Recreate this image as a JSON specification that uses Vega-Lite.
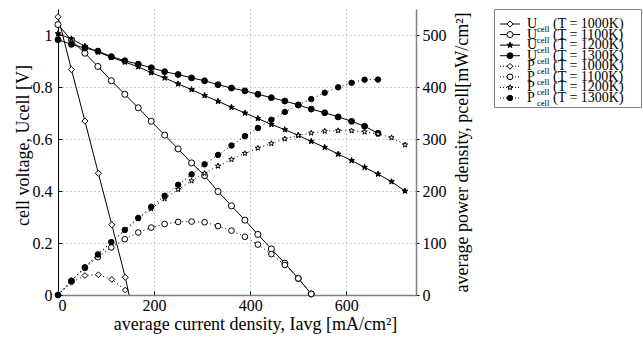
{
  "$schema": "https://vega.github.io/schema/vega-lite/v6.json",
  "background": "white",
  "padding": {"left": 14, "top": 8, "right": 2, "bottom": 2},
  "spacing": 22,
  "config": {
    "font": "Liberation Serif",
    "view": {"stroke": null},
    "axis": {
      "labelFont": "Liberation Serif",
      "titleFont": "Liberation Serif",
      "labelFontSize": 16,
      "titleFontSize": 18,
      "titleFontWeight": "normal",
      "labelColor": "black",
      "titleColor": "black",
      "tickColor": "black",
      "domainColor": "black",
      "gridColor": "#9a9a9a",
      "gridDash": [1, 3],
      "gridOpacity": 1,
      "tickSize": -4
    }
  },
  "datasets": {
    "uc": [
      {"s": "U1000", "I": 0, "v": 1.07}, {"s": "U1000", "I": 28, "v": 0.867}, {"s": "U1000", "I": 56, "v": 0.669}, {"s": "U1000", "I": 84, "v": 0.468}, {"s": "U1000", "I": 112, "v": 0.27}, {"s": "U1000", "I": 140, "v": 0.068}, {"s": "U1000", "I": 148, "v": 0},
      {"s": "U1100", "I": 0, "v": 1.04}, {"s": "U1100", "I": 28, "v": 0.98}, {"s": "U1100", "I": 56, "v": 0.93}, {"s": "U1100", "I": 83, "v": 0.879}, {"s": "U1100", "I": 111, "v": 0.824}, {"s": "U1100", "I": 139, "v": 0.772}, {"s": "U1100", "I": 167, "v": 0.72}, {"s": "U1100", "I": 194, "v": 0.668}, {"s": "U1100", "I": 222, "v": 0.615}, {"s": "U1100", "I": 250, "v": 0.562}, {"s": "U1100", "I": 278, "v": 0.508}, {"s": "U1100", "I": 305, "v": 0.459}, {"s": "U1100", "I": 333, "v": 0.398}, {"s": "U1100", "I": 361, "v": 0.343}, {"s": "U1100", "I": 389, "v": 0.288}, {"s": "U1100", "I": 416, "v": 0.233}, {"s": "U1100", "I": 444, "v": 0.177}, {"s": "U1100", "I": 472, "v": 0.122}, {"s": "U1100", "I": 500, "v": 0.064}, {"s": "U1100", "I": 527, "v": 0.004},
      {"s": "U1200", "I": 0, "v": 1.005}, {"s": "U1200", "I": 28, "v": 0.985}, {"s": "U1200", "I": 56, "v": 0.957}, {"s": "U1200", "I": 83, "v": 0.935}, {"s": "U1200", "I": 111, "v": 0.914}, {"s": "U1200", "I": 139, "v": 0.896}, {"s": "U1200", "I": 167, "v": 0.878}, {"s": "U1200", "I": 194, "v": 0.855}, {"s": "U1200", "I": 222, "v": 0.835}, {"s": "U1200", "I": 250, "v": 0.812}, {"s": "U1200", "I": 278, "v": 0.79}, {"s": "U1200", "I": 305, "v": 0.767}, {"s": "U1200", "I": 333, "v": 0.745}, {"s": "U1200", "I": 361, "v": 0.722}, {"s": "U1200", "I": 389, "v": 0.7}, {"s": "U1200", "I": 416, "v": 0.679}, {"s": "U1200", "I": 444, "v": 0.656}, {"s": "U1200", "I": 472, "v": 0.636}, {"s": "U1200", "I": 500, "v": 0.614}, {"s": "U1200", "I": 527, "v": 0.591}, {"s": "U1200", "I": 555, "v": 0.568}, {"s": "U1200", "I": 583, "v": 0.542}, {"s": "U1200", "I": 611, "v": 0.517}, {"s": "U1200", "I": 638, "v": 0.491}, {"s": "U1200", "I": 666, "v": 0.465}, {"s": "U1200", "I": 694, "v": 0.436}, {"s": "U1200", "I": 722, "v": 0.4},
      {"s": "U1300", "I": 0, "v": 0.982}, {"s": "U1300", "I": 28, "v": 0.964}, {"s": "U1300", "I": 56, "v": 0.95}, {"s": "U1300", "I": 83, "v": 0.938}, {"s": "U1300", "I": 111, "v": 0.917}, {"s": "U1300", "I": 139, "v": 0.901}, {"s": "U1300", "I": 167, "v": 0.888}, {"s": "U1300", "I": 194, "v": 0.874}, {"s": "U1300", "I": 222, "v": 0.859}, {"s": "U1300", "I": 250, "v": 0.848}, {"s": "U1300", "I": 278, "v": 0.835}, {"s": "U1300", "I": 305, "v": 0.824}, {"s": "U1300", "I": 333, "v": 0.809}, {"s": "U1300", "I": 361, "v": 0.796}, {"s": "U1300", "I": 389, "v": 0.785}, {"s": "U1300", "I": 416, "v": 0.772}, {"s": "U1300", "I": 444, "v": 0.759}, {"s": "U1300", "I": 472, "v": 0.746}, {"s": "U1300", "I": 500, "v": 0.731}, {"s": "U1300", "I": 527, "v": 0.715}, {"s": "U1300", "I": 555, "v": 0.701}, {"s": "U1300", "I": 583, "v": 0.685}, {"s": "U1300", "I": 611, "v": 0.668}, {"s": "U1300", "I": 638, "v": 0.649}, {"s": "U1300", "I": 666, "v": 0.622}
    ],
    "pc": [
      {"s": "P1000", "I": 0, "v": 0}, {"s": "P1000", "I": 28, "v": 24.3}, {"s": "P1000", "I": 56, "v": 37.5}, {"s": "P1000", "I": 84, "v": 39}, {"s": "P1000", "I": 112, "v": 30}, {"s": "P1000", "I": 140, "v": 9.5},
      {"s": "P1100", "I": 0, "v": 0}, {"s": "P1100", "I": 28, "v": 27.4}, {"s": "P1100", "I": 56, "v": 52.1}, {"s": "P1100", "I": 83, "v": 73}, {"s": "P1100", "I": 111, "v": 91.5}, {"s": "P1100", "I": 139, "v": 107.3}, {"s": "P1100", "I": 167, "v": 120.2}, {"s": "P1100", "I": 194, "v": 129.6}, {"s": "P1100", "I": 222, "v": 136.5}, {"s": "P1100", "I": 250, "v": 140.5}, {"s": "P1100", "I": 278, "v": 141.2}, {"s": "P1100", "I": 305, "v": 140}, {"s": "P1100", "I": 333, "v": 132.5}, {"s": "P1100", "I": 361, "v": 123.8}, {"s": "P1100", "I": 389, "v": 112}, {"s": "P1100", "I": 416, "v": 97}, {"s": "P1100", "I": 444, "v": 78.6}, {"s": "P1100", "I": 472, "v": 57.6}, {"s": "P1100", "I": 500, "v": 32}, {"s": "P1100", "I": 527, "v": 2.1},
      {"s": "P1200", "I": 0, "v": 0}, {"s": "P1200", "I": 28, "v": 27.6}, {"s": "P1200", "I": 56, "v": 53.6}, {"s": "P1200", "I": 83, "v": 77.6}, {"s": "P1200", "I": 111, "v": 101.5}, {"s": "P1200", "I": 139, "v": 124.5}, {"s": "P1200", "I": 167, "v": 146.6}, {"s": "P1200", "I": 194, "v": 165.9}, {"s": "P1200", "I": 222, "v": 185.4}, {"s": "P1200", "I": 250, "v": 203}, {"s": "P1200", "I": 278, "v": 219.6}, {"s": "P1200", "I": 305, "v": 234}, {"s": "P1200", "I": 333, "v": 248}, {"s": "P1200", "I": 361, "v": 260.6}, {"s": "P1200", "I": 389, "v": 272.3}, {"s": "P1200", "I": 416, "v": 282.5}, {"s": "P1200", "I": 444, "v": 291.3}, {"s": "P1200", "I": 472, "v": 300.2}, {"s": "P1200", "I": 500, "v": 307}, {"s": "P1200", "I": 527, "v": 311.5}, {"s": "P1200", "I": 555, "v": 315.2}, {"s": "P1200", "I": 583, "v": 316}, {"s": "P1200", "I": 611, "v": 315.9}, {"s": "P1200", "I": 638, "v": 313.7}, {"s": "P1200", "I": 666, "v": 309.7}, {"s": "P1200", "I": 694, "v": 302.6}, {"s": "P1200", "I": 722, "v": 288.8},
      {"s": "P1300", "I": 0, "v": 0}, {"s": "P1300", "I": 28, "v": 27}, {"s": "P1300", "I": 56, "v": 53.2}, {"s": "P1300", "I": 83, "v": 78}, {"s": "P1300", "I": 111, "v": 101.8}, {"s": "P1300", "I": 139, "v": 125.2}, {"s": "P1300", "I": 167, "v": 148.3}, {"s": "P1300", "I": 194, "v": 169.6}, {"s": "P1300", "I": 222, "v": 190.7}, {"s": "P1300", "I": 250, "v": 212}, {"s": "P1300", "I": 278, "v": 232}, {"s": "P1300", "I": 305, "v": 251.3}, {"s": "P1300", "I": 333, "v": 269.4}, {"s": "P1300", "I": 361, "v": 287.4}, {"s": "P1300", "I": 389, "v": 305.4}, {"s": "P1300", "I": 416, "v": 321.2}, {"s": "P1300", "I": 444, "v": 337}, {"s": "P1300", "I": 472, "v": 352}, {"s": "P1300", "I": 500, "v": 365.5}, {"s": "P1300", "I": 527, "v": 376.8}, {"s": "P1300", "I": 555, "v": 389}, {"s": "P1300", "I": 583, "v": 399.4}, {"s": "P1300", "I": 611, "v": 408}, {"s": "P1300", "I": 638, "v": 414}, {"s": "P1300", "I": 666, "v": 414.3}
    ],
    "leg": [
      {"s": "U1000", "sym": "U", "tl": "(T = 1000K)"},
      {"s": "U1100", "sym": "U", "tl": "(T = 1100K)"},
      {"s": "U1200", "sym": "U", "tl": "(T = 1200K)"},
      {"s": "U1300", "sym": "U", "tl": "(T = 1300K)"},
      {"s": "P1000", "sym": "P", "tl": "(T = 1000K)"},
      {"s": "P1100", "sym": "P", "tl": "(T = 1100K)"},
      {"s": "P1200", "sym": "P", "tl": "(T = 1200K)"},
      {"s": "P1300", "sym": "P", "tl": "(T = 1300K)"}
    ]
  },
  "hconcat": [
    {
      "width": 358,
      "height": 286,
      "encoding": {
        "x": {
          "field": "I", "type": "quantitative",
          "scale": {"domain": [0, 745], "nice": false, "zero": true},
          "axis": {
            "values": [0, 200, 400, 600], "grid": true,
            "title": "average current density, Iavg [mA/cm²]",
            "titleX": 197, "labelPadding": 6, "titlePadding": 2,
            "domainColor": "#808080", "domainWidth": 1.5
          }
        }
      },
      "layer": [
        {
          "data": {"name": "uc"},
          "encoding": {
            "y": {
              "field": "v", "type": "quantitative",
              "scale": {"domain": [0, 1.1], "nice": false, "zero": true},
              "axis": {
                "orient": "left", "values": [0, 0.2, 0.4, 0.6, 0.8, 1], "format": "~g",
                "grid": true, "title": "cell voltage, Ucell [V]",
                "labelPadding": 10, "titlePadding": 0, "titleY": 136
              }
            }
          },
          "layer": [
            {
              "mark": {"type": "line", "color": "black", "strokeWidth": 1},
              "encoding": {"detail": {"field": "s"}}
            },
            {
              "transform": [{"filter": "datum.v > 0 || datum.I == 0"}],
              "mark": {"type": "point", "filled": true, "stroke": "black", "strokeWidth": 1, "opacity": 1},
              "encoding": {
                "shape": {"field": "s", "type": "nominal", "legend": null,
                  "scale": {"domain": ["U1000", "U1100", "U1200", "U1300", "P1000", "P1100", "P1200", "P1300"],
                    "range": ["diamond", "circle", "M0,-1L0.235,-0.324L0.951,-0.309L0.380,0.124L0.588,0.809L0,0.4L-0.588,0.809L-0.380,0.124L-0.951,-0.309L-0.235,-0.324Z", "circle", "diamond", "circle", "M0,-1L0.235,-0.324L0.951,-0.309L0.380,0.124L0.588,0.809L0,0.4L-0.588,0.809L-0.380,0.124L-0.951,-0.309L-0.235,-0.324Z", "circle"]}},
                "fill": {"field": "s", "type": "nominal", "legend": null,
                  "scale": {"domain": ["U1000", "U1100", "U1200", "U1300", "P1000", "P1100", "P1200", "P1300"],
                    "range": ["white", "white", "black", "black", "white", "white", "white", "black"]}},
                "size": {"field": "s", "type": "nominal", "legend": null,
                  "scale": {"domain": ["U1000", "U1100", "U1200", "U1300", "P1000", "P1100", "P1200", "P1300"],
                    "range": [38, 30, 48, 14, 38, 30, 48, 26]}}
              }
            }
          ]
        },
        {
          "data": {"name": "pc"},
          "encoding": {
            "y": {
              "field": "v", "type": "quantitative",
              "scale": {"domain": [0, 550], "nice": false, "zero": true},
              "axis": {
                "orient": "right", "values": [0, 100, 200, 300, 400, 500],
                "grid": false, "title": "average power density, pcell[mW/cm²]",
                "titleAngle": 270, "labelPadding": 3, "titlePadding": 25,
                "tickSize": 3, "domainColor": "#808080", "domainWidth": 1.5
              }
            }
          },
          "layer": [
            {
              "mark": {"type": "line", "color": "black", "strokeWidth": 1, "strokeDash": [1, 3]},
              "encoding": {"detail": {"field": "s"}}
            },
            {
              "mark": {"type": "point", "filled": true, "stroke": "black", "strokeWidth": 1, "opacity": 1},
              "encoding": {
                "shape": {"field": "s", "type": "nominal", "legend": null},
                "fill": {"field": "s", "type": "nominal", "legend": null},
                "size": {"field": "s", "type": "nominal", "legend": null}
              }
            }
          ]
        }
      ],
      "resolve": {"scale": {"y": "independent"}}
    },
    {
      "width": 147,
      "height": 98,
      "data": {"name": "leg"},
      "view": {"stroke": "#808080", "strokeWidth": 1},
      "encoding": {
        "y": {
          "field": "s", "type": "nominal",
          "scale": {"type": "point", "padding": 0, "domain": ["U1000", "U1100", "U1200", "U1300", "P1000", "P1100", "P1200", "P1300"], "range": [15, 89]},
          "axis": null
        }
      },
      "layer": [
        {
          "transform": [{"filter": "datum.sym == 'U'"}],
          "mark": {"type": "rule", "color": "black", "strokeWidth": 1},
          "encoding": {
            "x": {"datum": 6, "type": "quantitative", "scale": {"domain": [0, 147], "nice": false, "zero": true}, "axis": null},
            "x2": {"datum": 26}
          }
        },
        {
          "transform": [{"filter": "datum.sym == 'P'"}],
          "mark": {"type": "rule", "color": "black", "strokeWidth": 1, "strokeDash": [1, 2]},
          "encoding": {
            "x": {"datum": 6, "type": "quantitative", "axis": null},
            "x2": {"datum": 26}
          }
        },
        {
          "mark": {"type": "point", "filled": true, "stroke": "black", "strokeWidth": 1, "opacity": 1},
          "encoding": {
            "x": {"datum": 16, "type": "quantitative", "axis": null},
            "shape": {"field": "s", "type": "nominal", "legend": null},
            "fill": {"field": "s", "type": "nominal", "legend": null},
            "size": {"field": "s", "type": "nominal", "legend": null}
          }
        },
        {
          "mark": {"type": "text", "align": "left", "baseline": "middle", "fontSize": 14, "font": "Liberation Serif", "fill": "black"},
          "encoding": {"x": {"datum": 33, "type": "quantitative", "axis": null}, "text": {"field": "sym"}}
        },
        {
          "mark": {"type": "text", "align": "left", "baseline": "middle", "fontSize": 8.5, "dy": 5, "font": "Liberation Serif", "fill": "black"},
          "encoding": {"x": {"datum": 43, "type": "quantitative", "axis": null}, "text": {"value": "cell"}}
        },
        {
          "mark": {"type": "text", "align": "left", "baseline": "middle", "fontSize": 14, "font": "Liberation Serif", "fill": "black"},
          "encoding": {"x": {"datum": 59, "type": "quantitative", "axis": null}, "text": {"field": "tl"}}
        }
      ]
    }
  ],
  "resolve": {
    "scale": {"shape": "shared", "fill": "shared", "size": "shared"}
  }
}
